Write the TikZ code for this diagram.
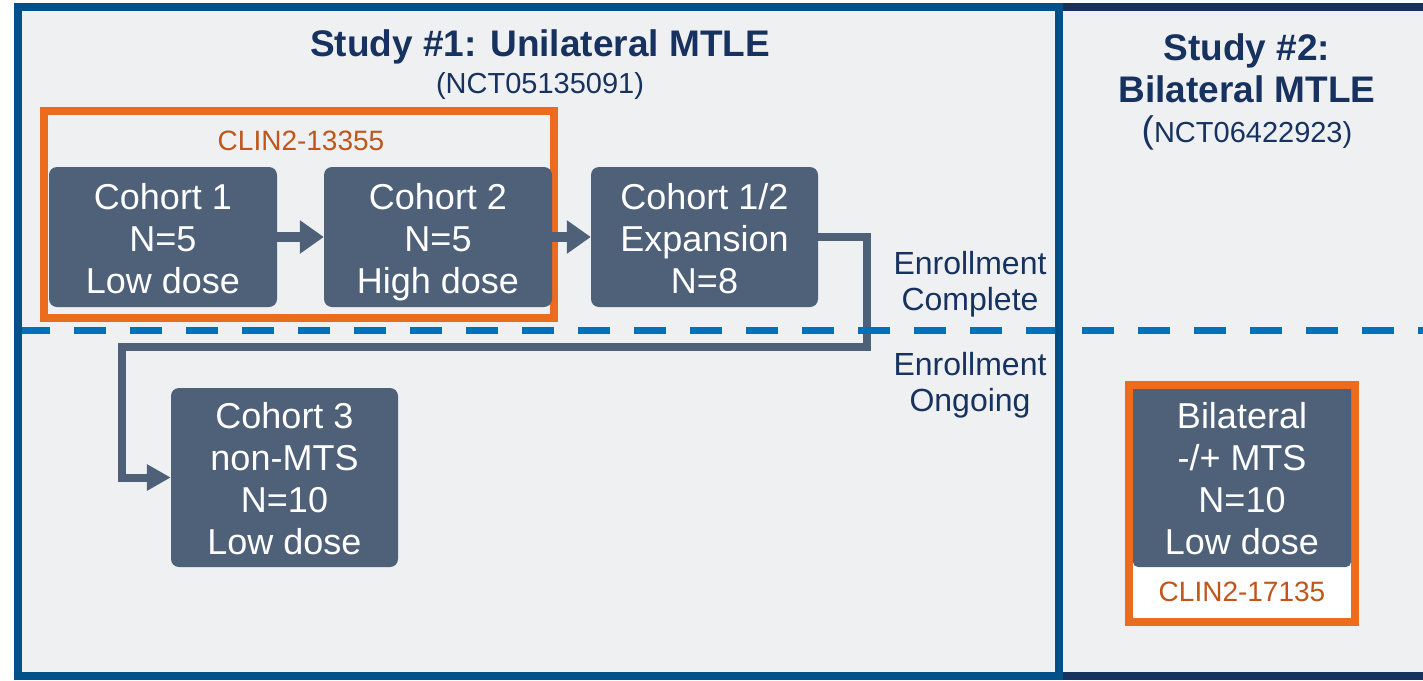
\documentclass[tikz,border=0pt]{standalone}
\usepackage{fontspec}
\setmainfont{Liberation Sans}
\usetikzlibrary{arrows.meta}
\definecolor{bgc}{HTML}{EFF0F2}
\definecolor{frameblue}{HTML}{00508A}
\definecolor{navy}{HTML}{17325F}
\definecolor{dashblue}{HTML}{0070BA}
\definecolor{boxgray}{HTML}{4F6079}
\definecolor{orangec}{HTML}{EC6C1F}
\definecolor{orangetxt}{HTML}{C0561B}
\newcommand\mystrutA{\rule{0pt}{38pt}}
\newcommand\mystrutB{\rule{0pt}{36pt}}
\newcommand\mystrutD{\rule[-9pt]{0pt}{9pt}}
\tikzset{
  cohort/.style={fill=boxgray, rounded corners=8pt, text=white, align=center, inner sep=0pt,
    font={\fontsize{36}{42}\selectfont}},
  flow/.style={draw=boxgray, line width=10pt, -{Triangle[length=24pt,width=32pt]}},
  elbow/.style={draw=boxgray, line width=8pt, line join=miter, -{Triangle[length=24pt,width=25pt]}},
  grp/.style={draw=orangec, line width=8pt, inner sep=0pt, outer sep=0pt},
  grplabel/.style={text=orangetxt, inner sep=0pt, font={\fontsize{28}{32}\selectfont}},
  title/.style={text=navy, align=center, inner sep=0pt, font={\fontsize{37}{42}\selectfont\bfseries}},
  subtitle/.style={text=navy, inner sep=0pt, font={\fontsize{29}{34}\selectfont}},
  status/.style={text=navy, align=center, inner sep=0pt, font={\fontsize{32}{36}\selectfont}},
  frameline/.style={line width=8pt},
}
\begin{document}
\begin{tikzpicture}[x=1pt,y=-1pt]
\useasboundingbox (0,0) rectangle (1423,680);
\fill[white] (0,0) rectangle (1423,680);
\fill[bgc] (22,11) rectangle (1423,672);

% titles
\node[title] (t1) at (540,47) {Study \#1: Unilateral MTLE};
\node[subtitle] (s1) at (540,86) {(NCT05135091)};
\node[title] (t2) at (1247,68) {Study \#2:\\Bilateral MTLE};
\node[subtitle] (s2) at (1247,133) {{\fontsize{37}{42}\selectfont(}NCT06422923)};

% study 1 group
\node[grp, minimum width=510pt, minimum height=207pt] (grp1) at (298.5,214.5) {};
\node[grplabel] (g1lab) at (301,141) {CLIN2-13355};

\node[cohort, minimum width=228pt, minimum height=140pt] (c1) at (163,237) {\mystrutA Cohort 1\\N=5\\Low dose\mystrutD};
\node[cohort, minimum width=228pt, minimum height=140pt] (c2) at (438,237) {\mystrutA Cohort 2\\N=5\\High dose\mystrutD};
\node[cohort, minimum width=227pt, minimum height=140pt] (c12) at (704.5,237) {\mystrutA Cohort 1/2\\Expansion\\N=8\mystrutD};
\node[cohort, minimum width=227pt, minimum height=179pt] (c3) at (284.5,477.5) {\mystrutB Cohort 3\\non-MTS\\N=10\\Low dose\mystrutD};

\draw[flow] (c1.east) -- (c2.west);
\draw[flow] (c2.east) -- (c12.west);
\draw[elbow] (c12.east) -- ++(49,0) |- (122,347) |- (c3.west);

% dashed separator
\draw[dashblue, line width=7pt, dash pattern=on 32pt off 24pt] (18,330) -- (1423,330);

\node[status] (ec) at (970,284) {Enrollment\\Complete};
\node[status] (eo) at (970,385) {Enrollment\\Ongoing};

% study 2 group
\node[grp, fill=white, minimum width=226pt, minimum height=237pt] (grp2) at (1242,503.5) {};
\fill[boxgray] (1133,389) [rounded corners=5pt] -- (1133,567) -- (1351,567) [sharp corners] -- (1351,389) -- cycle;
\node[cohort, fill=none, minimum width=218pt, minimum height=178pt] (bil) at (1242,478) {\mystrutB Bilateral\\-/+ MTS\\N=10\\Low dose\mystrutD};
\node[grplabel] (g2lab) at (1242,592) {CLIN2-17135};

% frame
\draw[frameblue, frameline] (18,680) -- (18,7) -- (1059,7);
\draw[frameblue, frameline] (18,676) -- (1059,676);
\draw[navy, frameline] (1063,7) -- (1423,7);
\draw[navy, frameline] (1063,676) -- (1423,676);
\draw[frameblue, frameline] (1059,3) -- (1059,680);
\end{tikzpicture}
\end{document}
